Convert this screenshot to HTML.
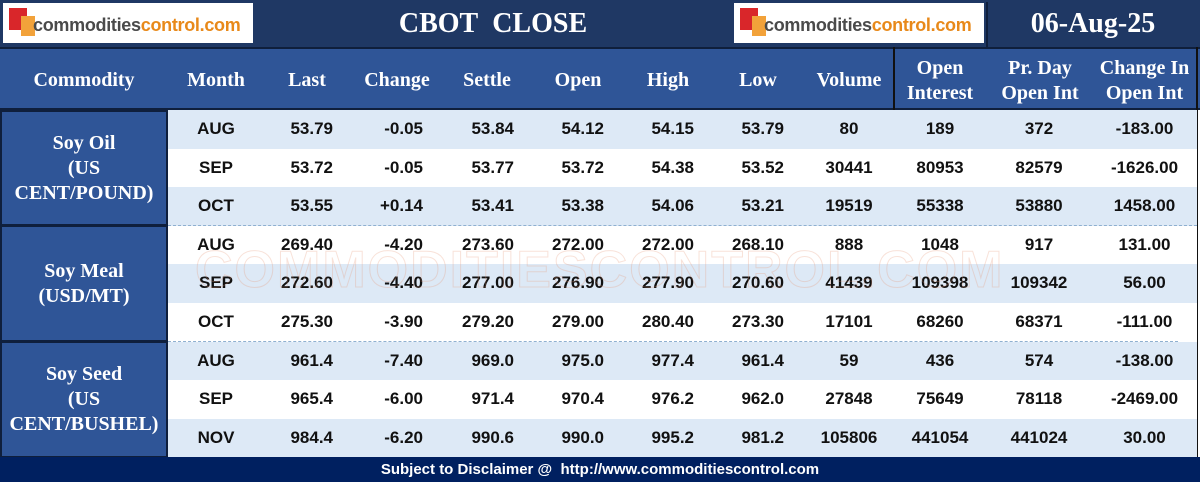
<!DOCTYPE html>
<html><head><meta charset="utf-8"><style>
*{margin:0;padding:0;box-sizing:border-box}
body{width:1200px;height:482px;overflow:hidden;background:#fff;font-family:"Liberation Sans",sans-serif;position:relative}
.abs{position:absolute}
.top{left:0;top:0;width:1200px;height:47px;background:#1f3864}
.logo{background:#fff;height:40px;top:3px}
.logo span{position:absolute;left:30px;top:12px;font:bold 18px "Liberation Sans",sans-serif;color:#4a4a4a;letter-spacing:-0.3px}
.logo span b{color:#e8891a}
.logo i{position:absolute;left:6px;top:5px;width:18px;height:22px;background:#d9262a}
.logo em{position:absolute;left:18px;top:13px;width:14px;height:20px;background:#f2a23a}
.title{font:bold 28px "Liberation Serif",serif;color:#fff;text-align:center}
.hdr{left:0;top:47px;width:1200px;height:63px;background:#2f5597;border-top:2px solid #0f1f3c;border-bottom:2px solid #0f1f3c}
.h{font:bold 20px "Liberation Serif",serif;color:#fff;text-align:center;line-height:25px}
.row{left:168px;width:1029px;height:38.6px}
.c{font:bold 17px "Liberation Sans",sans-serif;color:#111;line-height:38.6px;text-align:center}
.r{text-align:right}
.left{left:0;width:168px;background:#2f5597;border:2px solid #0f1f3c;color:#fff;font:bold 20px "Liberation Serif",serif;text-align:center;line-height:25px;display:flex;align-items:center;justify-content:center}
.foot{left:0;top:457px;width:1200px;height:25px;background:#002060;color:#fff;font:bold 15px "Liberation Sans",sans-serif;text-align:center;line-height:25px}
.wm{left:195px;top:240px;font:bold 52px "Liberation Sans",sans-serif;color:transparent;-webkit-text-stroke:1px rgba(230,150,120,0.28);letter-spacing:2px;white-space:nowrap}
</style></head><body>
<div class="abs top"></div>
<div class="abs logo" style="left:3px;width:250px"><i></i><em></em><span>commodities<b>control.com</b></span></div>
<div class="abs title" style="left:253px;width:480px;top:8px">CBOT&nbsp; CLOSE</div>
<div class="abs logo" style="left:734px;width:250px"><i></i><em></em><span>commodities<b>control.com</b></span></div>
<div class="abs" style="left:986px;top:2px;width:2px;height:45px;background:#0f1f3c"></div>
<div class="abs title" style="left:988px;width:210px;top:8px">06-Aug-25</div>
<div class="abs hdr"></div>
<div class="abs" style="left:893px;top:47px;width:2px;height:410px;background:#111"></div>
<div class="abs" style="left:1196px;top:47px;width:2px;height:410px;background:#111"></div>
<div class="abs h" style="left:0;width:168px;top:68px">Commodity</div>
<div class="abs h" style="left:176px;width:80px;top:68px">Month</div>
<div class="abs h" style="left:267px;width:80px;top:68px">Last</div>
<div class="abs h" style="left:357px;width:80px;top:68px">Change</div>
<div class="abs h" style="left:447px;width:80px;top:68px">Settle</div>
<div class="abs h" style="left:538px;width:80px;top:68px">Open</div>
<div class="abs h" style="left:628px;width:80px;top:68px">High</div>
<div class="abs h" style="left:718px;width:80px;top:68px">Low</div>
<div class="abs h" style="left:804px;width:90px;top:68px">Volume</div>
<div class="abs h" style="left:895px;width:90px;top:56px">Open<br>Interest</div>
<div class="abs h" style="left:990px;width:100px;top:56px">Pr. Day<br>Open Int</div>
<div class="abs h" style="left:1092px;width:105px;top:56px">Change In<br>Open Int</div>
<div id="rows"></div>
<div class="abs left" style="top:110px;height:116px">Soy Oil<br>(US<br>CENT/POUND)</div>
<div class="abs left" style="top:225px;height:117px">Soy Meal<br>(USD/MT)</div>
<div class="abs left" style="top:341px;height:117px">Soy Seed<br>(US<br>CENT/BUSHEL)</div>
<div class="abs" style="left:168px;top:225px;width:1029px;border-top:1px dashed #8fb0d0"></div>
<div class="abs" style="left:168px;top:341px;width:1010px;border-top:1px dashed #8fb0d0"></div>
<div class="abs wm">COMMODITIESCONTROL.COM</div>
<div class="abs foot">Subject to Disclaimer @&nbsp; http://www.commoditiescontrol.com</div>
<script>
var d=[["AUG","53.79","-0.05","53.84","54.12","54.15","53.79","80","189","372","-183.00"],
["SEP","53.72","-0.05","53.77","53.72","54.38","53.52","30441","80953","82579","-1626.00"],
["OCT","53.55","+0.14","53.41","53.38","54.06","53.21","19519","55338","53880","1458.00"],
["AUG","269.40","-4.20","273.60","272.00","272.00","268.10","888","1048","917","131.00"],
["SEP","272.60","-4.40","277.00","276.90","277.90","270.60","41439","109398","109342","56.00"],
["OCT","275.30","-3.90","279.20","279.00","280.40","273.30","17101","68260","68371","-111.00"],
["AUG","961.4","-7.40","969.0","975.0","977.4","961.4","59","436","574","-138.00"],
["SEP","965.4","-6.00","971.4","970.4","976.2","962.0","27848","75649","78118","-2469.00"],
["NOV","984.4","-6.20","990.6","990.0","995.2","981.2","105806","441054","441024","30.00"]];
var pos=[[176,80,0],[253,80,1],[343,80,1],[434,80,1],[524,80,1],[614,80,1],[704,80,1],[804,90,0],[895,90,0],[990,98,0],[1092,105,0]];
var h="";
d.forEach(function(r,i){var t=110+i*38.6;
h+='<div class="abs row" style="top:'+t+'px;background:'+(i%2==0?'#dde9f6':'#fff')+'"></div>';
r.forEach(function(v,j){var p=pos[j];h+='<div class="abs c'+(p[2]?' r':'')+'" style="left:'+p[0]+'px;width:'+p[1]+'px;top:'+t+'px">'+v+'</div>';});});
document.getElementById('rows').innerHTML=h;
</script>
</body></html>
